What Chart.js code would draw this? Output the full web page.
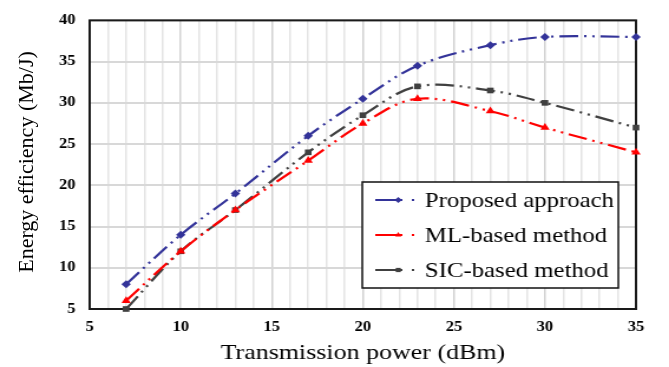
<!DOCTYPE html>
<html>
<head>
<meta charset="utf-8">
<script src="https://cdn.jsdelivr.net/npm/chart.js@4.4.1/dist/chart.umd.min.js"></script>
<style>
  html, body { margin: 0; padding: 0; background: #fff; }
  #wrap { position: relative; width: 669px; height: 367px; overflow: hidden; background: #fff; }
  /* the source figure is stretched sideways, so the chart is drawn narrow and scaled */
  #stretch { position: absolute; left: 0; top: 0; width: 567px; height: 367px;
    transform: scaleX(1.18); transform-origin: 0 0; }
  #ytitle { position: absolute; left: 24px; top: 162px; width: 260px; height: 22px;
    margin-left: -130px; margin-top: -11px; line-height: 22px; text-align: center;
    font: 22px "Liberation Serif", "Times New Roman", serif; color: #000;
    transform: rotate(-90deg); white-space: nowrap; }
</style>
</head>
<body>
<div id="wrap">
  <div id="stretch"><canvas id="chart"></canvas></div>
  <div id="ytitle">Energy efficiency (Mb/J)</div>
</div>
<script>
"use strict";

// Data ----------------------------------------------------------------------
const power = [7, 10, 13, 17, 20, 23, 27, 30, 35];
const proposed = [8, 14, 19, 26, 30.5, 34.5, 37, 38, 38];
const mlBased = [6, 12, 17, 23, 27.5, 30.5, 29, 27, 24];
const sicBased = [5, 12, 17, 24, 28.5, 32, 31.5, 30, 27];
const xTicks = [5, 10, 15, 20, 25, 30, 35];
const yTicks = [5, 10, 15, 20, 25, 30, 35, 40];
const seriesNames = ["Proposed approach", "ML-based method", "SIC-based method"];

const SERIF = "'Liberation Serif', 'Times New Roman', serif";
const DASH = [16, 5, 2, 5, 2, 5];

function pts(ys) {
  return power.map((x, i) => ({ x, y: ys[i] }));
}

function series(label, ys, color, style, radius) {
  return {
    label,
    data: pts(ys),
    borderColor: color,
    backgroundColor: color,
    borderWidth: 2.2,
    borderDash: DASH,
    tension: 0.35,
    pointStyle: style,
    pointRadius: radius,
    pointBorderWidth: 0,
    clip: false,
  };
}

// Boxed legend inside the plot ----------------------------------------------
const boxLegend = {
  id: "boxLegend",
  afterDatasetsDraw(chart) {
    const { ctx, chartArea } = chart;
    const w = 217, h = 106;
    const x0 = chartArea.right - 15 - w;
    const y0 = chartArea.bottom - 21 - h;
    ctx.save();
    ctx.fillStyle = "#fff";
    ctx.fillRect(x0, y0, w, h);
    ctx.strokeStyle = "#111";
    ctx.lineWidth = 1.5;
    ctx.strokeRect(x0, y0, w, h);
    chart.data.datasets.forEach((ds, i) => {
      const cy = y0 + 18 + i * 35;
      ctx.strokeStyle = ds.borderColor;
      ctx.fillStyle = ds.borderColor;
      ctx.lineWidth = 2;
      ctx.setLineDash([]);
      ctx.beginPath();
      ctx.moveTo(x0 + 11, cy);
      ctx.lineTo(x0 + 34, cy);
      ctx.moveTo(x0 + 42, cy);
      ctx.lineTo(x0 + 44, cy);
      ctx.stroke();
      Chart.helpers.drawPoint(ctx, { pointStyle: ds.pointStyle, radius: 3, rotation: 0, borderWidth: 0 }, x0 + 30.5, cy);
      ctx.fillStyle = "#000";
      ctx.font = "21px " + SERIF;
      ctx.textBaseline = "middle";
      ctx.textAlign = "left";
      ctx.fillText(ds.label, x0 + 53, cy + 1);
    });
    ctx.restore();
  },
};

// Frame round the plot area --------------------------------------------------
const frame = {
  id: "frame",
  beforeDatasetsDraw(chart) {
    const { ctx, chartArea } = chart;
    ctx.save();
    ctx.strokeStyle = "#1a1a1a";
    ctx.lineWidth = 2;
    ctx.strokeRect(chartArea.left, chartArea.top, chartArea.right - chartArea.left, chartArea.bottom - chartArea.top);
    ctx.restore();
  },
};

new Chart(document.getElementById("chart"), {
  type: "line",
  data: {
    datasets: [
      series(seriesNames[0], proposed, "#333399", "rectRot", 4),
      series(seriesNames[1], mlBased, "#ff0000", "triangle", 4.5),
      series(seriesNames[2], sicBased, "#404040", "rect", 4),
    ],
  },
  options: {
    responsive: true,
    maintainAspectRatio: false,
    animation: false,
    layout: { padding: { left: 0, top: 12, right: 28, bottom: 0 } },
    plugins: { legend: { display: false }, tooltip: { enabled: false } },
    scales: {
      x: {
        type: "linear",
        min: 5,
        max: 35,
        afterFit: (s) => { s.height = 58; },
        border: { display: false },
        grid: {
          drawTicks: false,
          lineWidth: 1.5,
          color: (c) => (xTicks.includes(c.tick.value) ? "#d2d2d2" : "#e4e4e4"),
        },
        ticks: {
          stepSize: 1,
          autoSkip: false,
          maxRotation: 0,
          padding: 10,
          color: "#000",
          font: { family: SERIF, size: 14, weight: "bold" },
          callback: (v) => (xTicks.includes(v) ? v : ""),
        },
        title: {
          display: true,
          text: "Transmission power (dBm)",
          color: "#000",
          font: { family: SERIF, size: 22 },
          padding: { top: 0, bottom: 1 },
        },
      },
      y: {
        min: 5,
        max: 40,
        afterFit: (s) => { s.width = 76; },
        border: { display: false },
        grid: { drawTicks: false, lineWidth: 2, color: "#d8d8d8" },
        ticks: {
          stepSize: 5,
          padding: 12,
          color: "#000",
          font: { family: SERIF, size: 14, weight: "bold" },
          callback: (v) => (yTicks.includes(v) ? v : ""),
        },
      },
    },
  },
  plugins: [frame, boxLegend],
});
</script>
</body>
</html>
